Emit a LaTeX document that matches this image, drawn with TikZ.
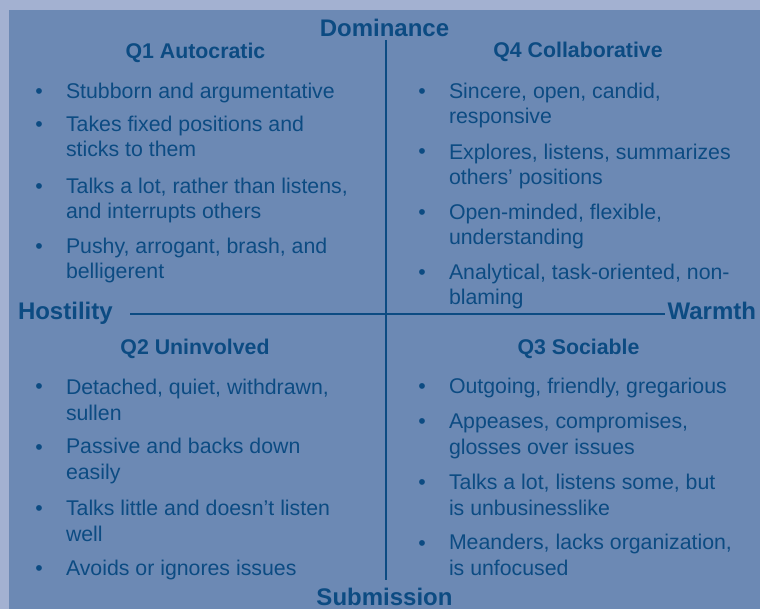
\documentclass[tikz,border=0pt]{standalone}
\usepackage{fontspec}
\setmainfont{Liberation Sans}
\definecolor{outerbg}{RGB}{163,177,209}
\definecolor{panelbg}{RGB}{108,137,180}
\definecolor{ink}{RGB}{12,75,130}
\begin{document}
\begin{tikzpicture}[x=1pt,y=-1pt,
  every node/.style={inner sep=0pt,outer sep=0pt,text=ink},
  % multi-line items are placed by the baseline of their last line
  item/.style={anchor=base west,align=left,font=\fontsize{21.3}{25.5}\selectfont},
  dot/.style={anchor=base,font=\fontsize{21.3}{25.5}\selectfont},
  qhead/.style={anchor=base,font=\bfseries\fontsize{21.3}{25.5}\selectfont},
  axislabel/.style={font=\bfseries\fontsize{24}{28}\selectfont},
  axisline/.style={draw=ink,line width=2pt}]

% background and panel
\fill[outerbg] (0,0) rectangle (760,609);
\fill[panelbg] (9,10) rectangle (760,609);
\useasboundingbox (0,0) rectangle (760,609);

% axes
\coordinate (vt) at (386,40);
\coordinate (vb) at (386,580);
\coordinate (hl) at (130,314);
\coordinate (hr) at (665,314);
\draw[axisline] (vt) -- (vb);
\draw[axisline] (hl) -- (hr);

\node[axislabel,anchor=base] (dom) at (384.5,37) {Dominance};
\node[axislabel,anchor=base] (sub) at (384.5,605) {Submission};
\node[axislabel,anchor=base west] (host) at (18,320) {Hostility};
\node[axislabel,anchor=base east] (warm) at (756,320) {Warmth};

% quadrant headings
\node[qhead] (q1) at (195.5,59) {Q1 Autocratic};
\node[qhead] (q4) at (578,58) {Q4 Collaborative};
\node[qhead] (q2) at (195,355) {Q2 Uninvolved};
\node[qhead] (q3) at (578.5,355) {Q3 Sociable};

% Q1 items
\node[dot] (a1d) at (39,99) {•};
\node[item] (a1) at (66,99) {Stubborn and argumentative};
\node[dot] (a2d) at (39,132) {•};
\node[item] (a2) at (66,157) {Takes fixed positions and\\sticks to them};
\node[dot] (a3d) at (39,194) {•};
\node[item] (a3) at (66,219) {Talks a lot, rather than listens,\\and interrupts others};
\node[dot] (a4d) at (39,254) {•};
\node[item] (a4) at (66,279) {Pushy, arrogant, brash, and\\belligerent};

% Q4 items
\node[dot] (d1d) at (422,99) {•};
\node[item] (d1) at (449,124) {Sincere, open, candid,\\responsive};
\node[dot] (d2d) at (422,159) {•};
\node[item] (d2) at (449,185) {Explores, listens, summarizes\\others’ positions};
\node[dot] (d3d) at (422,220) {•};
\node[item] (d3) at (449,245) {Open-minded, flexible,\\understanding};
\node[dot] (d4d) at (422,280) {•};
\node[item] (d4) at (449,305) {Analytical, task-oriented, non-\\blaming};

% Q2 items
\node[dot] (b1d) at (39,393) {•};
\node[item] (b1) at (66,420) {Detached, quiet, withdrawn,\\sullen};
\node[dot] (b2d) at (39,454) {•};
\node[item] (b2) at (66,479) {Passive and backs down\\easily};
\node[dot] (b3d) at (39,515) {•};
\node[item] (b3) at (66,541) {Talks little and doesn’t listen\\well};
\node[dot] (b4d) at (39,575) {•};
\node[item] (b4) at (66,575) {Avoids or ignores issues};

% Q3 items
\node[dot] (c1d) at (422,393) {•};
\node[item] (c1) at (449,393) {Outgoing, friendly, gregarious};
\node[dot] (c2d) at (422,428) {•};
\node[item] (c2) at (449,454) {Appeases, compromises,\\glosses over issues};
\node[dot] (c3d) at (422,489) {•};
\node[item] (c3) at (449,515) {Talks a lot, listens some, but\\is unbusinesslike};
\node[dot] (c4d) at (422,550) {•};
\node[item] (c4) at (449,575) {Meanders, lacks organization,\\is unfocused};
\end{tikzpicture}
\end{document}
